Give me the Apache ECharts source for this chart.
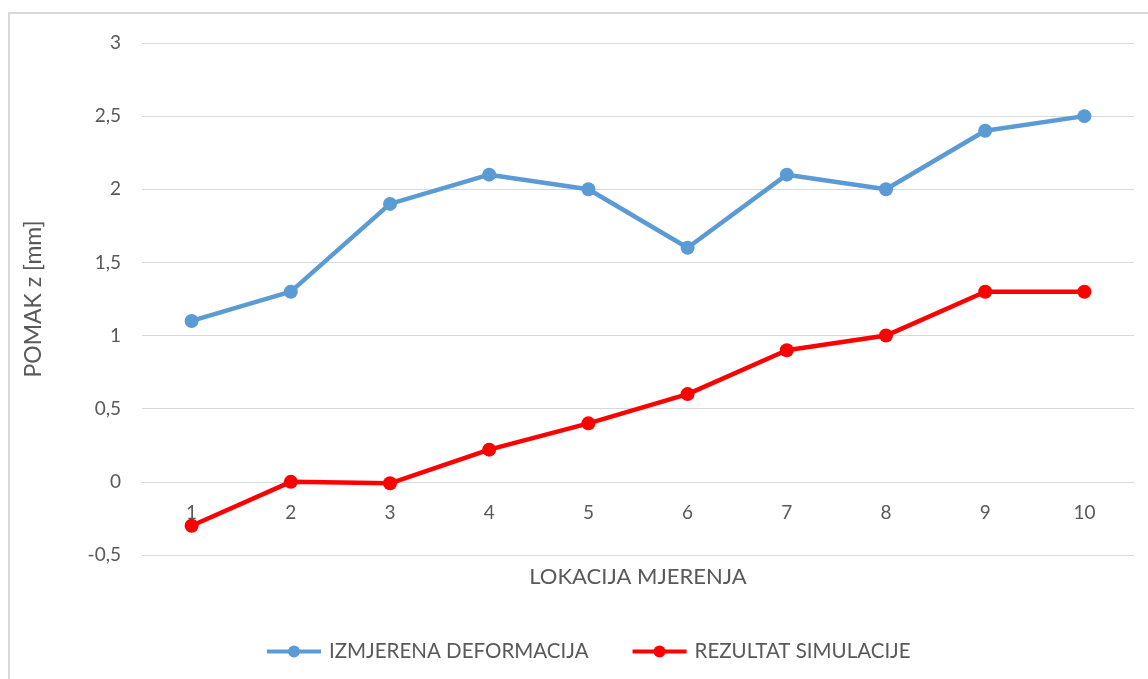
<!DOCTYPE html>
<html>
<head>
<meta charset="utf-8">
<script src="https://cdn.jsdelivr.net/npm/echarts@6/dist/echarts.min.js"></script>
<style>
  html, body { margin: 0; padding: 0; background: #fff; }
  #chart { width: 1148px; height: 679px; }
</style>
</head>
<body>
<div id="chart"></div>
<script>
// Measurement locations
const locations = ['1', '2', '3', '4', '5', '6', '7', '8', '9', '10'];
// Measured deformation [mm]
const measured = [1.1, 1.3, 1.9, 2.1, 2.0, 1.6, 2.1, 2.0, 2.4, 2.5];
// Simulation result [mm]
const simulated = [-0.3, 0.0, -0.01, 0.22, 0.4, 0.6, 0.9, 1.0, 1.3, 1.3];

const seriesNames = ['IZMJERENA DEFORMACIJA', 'REZULTAT SIMULACIJE'];
const yTicks = { min: -0.5, max: 3, step: 0.5 };

const FONT = 'Lato';
const TEXT = '#595959';
const GRID = '#d9d9d9';

const gridBox = { left: 142, right: 14, top: 43, bottom: 124 };
const plotHeight = 679 - gridBox.top - gridBox.bottom;
// category axis sits on the zero line of the value axis
const zeroOffset = -plotHeight * (0 - yTicks.min) / (yTicks.max - yTicks.min);

const chart = echarts.init(document.getElementById('chart'), null, { renderer: 'canvas' });

chart.setOption({
  backgroundColor: '#ffffff',
  animation: false,
  graphic: [{
    type: 'rect',
    shape: { x: 9, y: 13, width: 1200, height: 720 },
    style: { fill: 'none', stroke: '#d9d9d9', lineWidth: 2 },
    silent: true
  }],
  grid: gridBox,
  legend: {
    data: seriesNames,
    top: 636,
    left: 260,
    itemWidth: 54,
    itemHeight: 15,
    itemGap: 42,
    lineStyle: { width: 4 },
    textStyle: { fontFamily: FONT, fontSize: 20.5, color: TEXT, padding: [0, 0, 0, 3] }
  },
  xAxis: {
    type: 'category',
    data: locations,
    boundaryGap: true,
    offset: zeroOffset,
    name: 'LOKACIJA MJERENJA',
    nameLocation: 'middle',
    nameGap: 84,
    nameTextStyle: { fontFamily: FONT, fontSize: 22, color: TEXT },
    axisLine: { onZero: false, lineStyle: { color: GRID, width: 1 } },
    axisTick: { show: false },
    axisLabel: { fontFamily: FONT, fontSize: 19, color: TEXT, margin: 22 },
    splitLine: { show: false }
  },
  yAxis: {
    type: 'value',
    min: yTicks.min,
    max: yTicks.max,
    interval: yTicks.step,
    name: 'POMAK z [mm]',
    nameLocation: 'middle',
    nameGap: 97,
    nameTextStyle: { fontFamily: FONT, fontSize: 23, color: TEXT },
    axisLine: { show: false },
    axisTick: { show: false },
    axisLabel: {
      fontFamily: FONT, fontSize: 19, color: TEXT, margin: 21,
      formatter: v => String(v).replace('.', ',')
    },
    splitLine: { lineStyle: { color: GRID, width: 1 } }
  },
  series: [
    {
      name: seriesNames[0],
      type: 'line',
      data: measured,
      symbol: 'circle',
      symbolSize: 14,
      lineStyle: { color: '#5b9bd5', width: 4.5 },
      itemStyle: { color: '#5b9bd5' },
      z: 3
    },
    {
      name: seriesNames[1],
      type: 'line',
      data: simulated,
      symbol: 'circle',
      symbolSize: 14,
      lineStyle: { color: '#ff0000', width: 4.5 },
      itemStyle: { color: '#ff0000' },
      z: 4
    }
  ]
});
</script>
</body>
</html>
